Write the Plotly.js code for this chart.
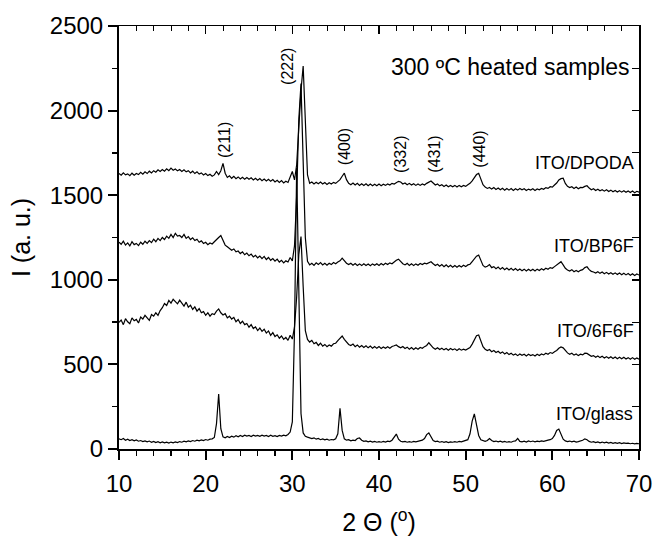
<!DOCTYPE html>
<html>
<head>
<meta charset="utf-8">
<script src="https://cdn.plot.ly/plotly-3.0.1.min.js"></script>
<style>html,body{margin:0;padding:0;background:#fff;}#chart{width:654px;height:543px;}</style>
</head>
<body>
<div id="chart"></div>
<script>
// 2θ grid: starts at 10°, step 0.25° (241 points up to 70°)
const twoThetaStart = 10;
const twoThetaStep = 0.25;

const seriesNames = ["ITO/glass", "ITO/6F6F", "ITO/BP6F", "ITO/DPODA"];

const itoGlass = [
  60,55,62,52,58,50,55,48,53,46,50,44,48,42,47,40,45,38,43,37,
  42,36,40,35,41,37,42,38,44,40,46,42,48,44,50,46,52,48,54,50,
  56,52,58,60,68,150,325,120,72,66,74,68,76,70,78,72,80,74,82,76,
  80,74,82,76,80,75,82,76,80,74,81,75,79,73,80,76,82,78,86,100,
  160,700,1660,900,210,95,75,70,66,62,66,58,62,55,60,54,58,52,56,54,
  60,90,240,110,60,52,55,48,52,50,62,65,52,45,48,42,46,41,45,40,
  44,40,45,41,46,44,52,70,88,58,46,42,45,40,44,40,45,42,46,48,
  52,62,85,95,68,50,44,46,40,44,39,43,38,42,40,44,40,45,42,46,
  48,55,90,165,207,150,80,55,48,45,50,62,50,44,47,42,46,41,45,40,
  44,40,46,48,62,45,42,46,41,48,43,47,42,46,44,48,45,50,52,55,
  62,80,110,118,85,58,48,44,47,42,46,41,44,46,52,60,55,45,40,43,
  38,42,37,41,36,40,35,39,34,38,33,37,32,36,33,35,31,34,30,33,
  31
];

const ito6F6F = [
  748,762,735,770,752,740,775,758,766,745,780,768,790,772,760,795,785,805,790,818,
  835,860,848,878,862,885,870,858,880,862,845,868,838,850,825,840,815,830,805,812,
  790,805,785,800,795,815,828,805,792,800,775,785,768,778,752,765,742,755,735,742,
  720,735,712,722,700,715,695,708,685,698,672,688,665,675,655,668,648,660,642,672,
  650,720,900,1150,1255,960,700,648,632,642,622,630,612,625,608,618,605,615,608,622,
  625,640,655,668,648,630,618,612,620,605,615,602,612,600,610,598,608,596,606,595,
  605,594,603,595,604,596,606,610,615,605,598,606,594,602,590,600,588,598,590,600,
  595,605,612,628,610,598,590,598,588,596,586,594,584,594,586,592,582,592,584,590,
  585,594,600,620,648,670,674,640,605,590,582,588,575,582,570,578,566,574,562,570,
  558,566,555,562,552,562,554,560,550,560,552,558,550,560,553,562,556,566,560,570,
  565,575,582,595,603,598,580,568,560,566,555,562,552,560,556,566,565,556,548,552,
  542,550,540,548,538,546,536,545,535,544,534,542,533,542,532,540,531,540,530,538,
  530
];

const itoBP6F = [
  1222,1210,1228,1205,1218,1200,1225,1208,1215,1202,1222,1210,1228,1215,1232,1220,1240,1225,1245,1232,
  1250,1238,1258,1245,1268,1250,1275,1258,1262,1250,1268,1245,1255,1238,1248,1232,1240,1222,1230,1215,
  1222,1208,1218,1212,1225,1235,1250,1262,1228,1205,1195,1182,1175,1182,1165,1170,1155,1165,1148,1158,
  1142,1152,1135,1145,1130,1140,1125,1138,1120,1132,1115,1125,1110,1122,1105,1115,1100,1112,1105,1132,
  1112,1200,1500,1950,2160,1700,1250,1110,1088,1098,1085,1100,1090,1102,1088,1098,1086,1098,1090,1102,
  1095,1105,1112,1128,1110,1098,1090,1098,1086,1096,1085,1094,1084,1095,1085,1093,1083,1094,1086,1095,
  1085,1096,1088,1098,1090,1100,1095,1108,1115,1122,1105,1095,1088,1097,1085,1095,1084,1094,1086,1096,
  1090,1098,1094,1102,1107,1095,1085,1092,1080,1090,1078,1088,1076,1086,1075,1085,1074,1084,1076,1086,
  1078,1088,1092,1108,1128,1140,1146,1112,1085,1075,1080,1090,1072,1078,1066,1075,1062,1072,1060,1070,
  1058,1068,1056,1066,1055,1064,1054,1063,1052,1062,1053,1062,1052,1063,1055,1065,1058,1068,1062,1072,
  1068,1078,1088,1102,1107,1088,1068,1058,1052,1060,1048,1055,1048,1056,1060,1072,1077,1060,1050,1046,
  1040,1048,1038,1046,1036,1044,1034,1042,1033,1041,1031,1040,1030,1039,1029,1037,1027,1036,1026,1034,
  1028
];

const itoDPODA = [
  1628,1618,1632,1620,1626,1615,1630,1618,1628,1622,1635,1624,1638,1628,1642,1632,1645,1636,1650,1640,
  1652,1642,1656,1645,1660,1648,1655,1644,1652,1640,1650,1638,1645,1632,1642,1628,1638,1625,1632,1620,
  1628,1616,1624,1612,1620,1640,1622,1645,1688,1630,1605,1615,1600,1612,1598,1608,1596,1606,1595,1605,
  1594,1603,1590,1600,1588,1598,1586,1595,1584,1594,1582,1592,1578,1588,1575,1586,1572,1582,1575,1612,
  1640,1590,1680,1900,2120,2263,1880,1620,1570,1578,1566,1576,1568,1578,1566,1575,1564,1574,1566,1576,
  1570,1580,1592,1612,1630,1592,1570,1562,1572,1560,1570,1558,1568,1558,1568,1556,1566,1556,1565,1556,
  1566,1556,1565,1558,1566,1560,1570,1566,1574,1582,1578,1566,1572,1562,1570,1560,1568,1558,1566,1558,
  1566,1560,1570,1578,1584,1572,1560,1566,1555,1562,1552,1560,1550,1558,1550,1558,1548,1558,1550,1558,
  1552,1562,1570,1585,1605,1622,1629,1596,1562,1548,1540,1546,1536,1545,1534,1542,1532,1541,1530,1540,
  1530,1539,1528,1538,1530,1540,1532,1538,1528,1536,1530,1538,1528,1537,1532,1540,1535,1545,1540,1550,
  1548,1560,1572,1590,1598,1600,1570,1552,1545,1550,1540,1548,1538,1546,1545,1552,1556,1542,1532,1538,
  1528,1535,1526,1532,1524,1532,1522,1530,1520,1528,1519,1527,1518,1526,1517,1525,1516,1525,1515,1523,
  1518
];

const seriesValues = [itoGlass, ito6F6F, itoBP6F, itoDPODA];

// series label positions (2θ, I)
const labelX = [69.55, 69.6, 69.6, 69.6];
const labelY = [205, 700, 1200, 1690];

// Miller index labels
const hklText = ["(211)", "(222)", "(400)", "(332)", "(431)", "(440)"];
const hklX = [22.1, 29.5, 36.1, 42.4, 46.3, 51.5];
const hklY = [1826, 2258, 1785, 1743, 1743, 1773];

const FONT = "Liberation Sans, Arial, Helvetica, sans-serif";

const traces = seriesValues.map((vals, i) => ({
  type: "scatter",
  mode: "lines",
  name: seriesNames[i],
  x0: twoThetaStart,
  dx: twoThetaStep,
  y: vals,
  line: {color: "#000000", width: 1.2},
  xaxis: i === 3 ? "x2" : "x",
  yaxis: i === 3 ? "y2" : "y",
  hoverinfo: "skip",
  showlegend: false
}));

const annotations = [];
seriesNames.forEach((n, i) => annotations.push({
  x: labelX[i], y: labelY[i], xref: "x", yref: "y", text: n,
  showarrow: false, xanchor: "right", yanchor: "middle",
  font: {family: FONT, size: 18, color: "#000"}
}));
hklText.forEach((t, i) => annotations.push({
  x: hklX[i], y: hklY[i], xref: "x", yref: "y", text: t, textangle: -90,
  showarrow: false, xanchor: "center", yanchor: "middle",
  font: {family: FONT, size: 16, color: "#000"}
}));
annotations.push({
  x: 69.2, y: 2260, xref: "x", yref: "y", text: "300 \u00baC heated samples",
  showarrow: false, xanchor: "right", yanchor: "middle",
  font: {family: FONT, size: 23, color: "#000"}
});

const xRange = [10, 70];
const yRange = [0, 2500];

const layout = {
  width: 654, height: 543,
  margin: {l: 119, r: 15, t: 26, b: 94, pad: 0},
  paper_bgcolor: "#fff", plot_bgcolor: "#fff",
  font: {family: FONT, color: "#000"},
  showlegend: false,
  xaxis: {
    range: xRange, showgrid: false, zeroline: false,
    showline: true, linecolor: "#000", linewidth: 2,
    ticks: "outside", ticklen: 9, tickwidth: 2, tickcolor: "#000",
    dtick: 10, tick0: 10,
    minor: {ticks: "outside", dtick: 2, ticklen: 5, tickwidth: 1.5, tickcolor: "#000"},
    tickfont: {family: FONT, size: 24, color: "#000"},
    ticklabelstandoff: 3,
    title: {text: "2 \u0398 (<sup>o</sup>)", font: {family: FONT, size: 25, color: "#000"}, standoff: 18}
  },
  xaxis2: {
    range: xRange, overlaying: "x", side: "top", anchor: "y",
    showgrid: false, zeroline: false, showticklabels: false,
    showline: true, linecolor: "#000", linewidth: 1.5,
    ticks: "inside", ticklen: 8, tickwidth: 1.5, tickcolor: "#000",
    dtick: 10, tick0: 10,
    minor: {ticks: "inside", dtick: 2, ticklen: 5, tickwidth: 1, tickcolor: "#000"}
  },
  yaxis: {
    range: yRange, showgrid: false, zeroline: false,
    showline: true, linecolor: "#000", linewidth: 2,
    ticks: "outside", ticklen: 9, tickwidth: 2, tickcolor: "#000",
    dtick: 500, tick0: 0,
    minor: {ticks: "outside", dtick: 250, ticklen: 5, tickwidth: 1.5, tickcolor: "#000"},
    tickfont: {family: FONT, size: 24, color: "#000"},
    title: {text: "I (a. u.)", font: {family: FONT, size: 25, color: "#000"}, standoff: 12}
  },
  yaxis2: {
    range: yRange, overlaying: "y", side: "right", anchor: "x",
    showgrid: false, zeroline: false, showticklabels: false,
    showline: true, linecolor: "#000", linewidth: 1.5,
    ticks: "inside", ticklen: 7, tickwidth: 1.5, tickcolor: "#000",
    dtick: 500, tick0: 0,
    minor: {ticks: "inside", dtick: 250, ticklen: 7, tickwidth: 1, tickcolor: "#000"}
  },
  annotations: annotations
};

Plotly.newPlot("chart", traces, layout, {staticPlot: true, displayModeBar: false});
</script>
</body>
</html>
